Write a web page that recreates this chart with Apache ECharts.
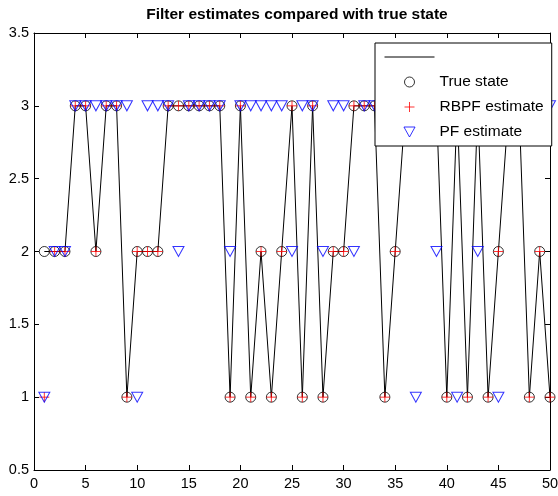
<!DOCTYPE html>
<html>
<head>
<meta charset="utf-8">
<title>Filter estimates compared with true state</title>
<script src="https://cdn.jsdelivr.net/npm/echarts@6/dist/echarts.min.js"></script>
<style>
  html, body { margin: 0; padding: 0; background: #fff; }
  #chart { width: 558px; height: 496px; }
</style>
</head>
<body>
<div id="chart"></div>
<script>
// Time steps and the discrete state sequences (1, 2 or 3) at each step
const steps = [1, 2, 3, 4, 5, 6, 7, 8, 9, 10,
               11, 12, 13, 14, 15, 16, 17, 18, 19, 20,
               21, 22, 23, 24, 25, 26, 27, 28, 29, 30,
               31, 32, 33, 34, 35, 36, 37, 38, 39, 40,
               41, 42, 43, 44, 45, 46, 47, 48, 49, 50];

const trueState = [2, 2, 2, 3, 3, 2, 3, 3, 1, 2,
                   2, 2, 3, 3, 3, 3, 3, 3, 1, 3,
                   1, 2, 1, 2, 3, 1, 3, 1, 2, 2,
                   3, 3, 3, 1, 2, 3, 3, 3, 3, 1,
                   3, 1, 3, 1, 2, 3, 3, 1, 2, 1];

const rbpfEstimate = [1, 2, 2, 3, 3, 2, 3, 3, 1, 2,
                      2, 2, 3, 3, 3, 3, 3, 3, 1, 3,
                      1, 2, 1, 2, 3, 1, 3, 1, 2, 2,
                      3, 3, 3, 1, 2, 3, 3, 3, 3, 1,
                      3, 1, 3, 1, 2, 3, 3, 1, 2, 1];

const pfEstimate = [1, 2, 2, 3, 3, 3, 3, 3, 3, 1,
                    3, 3, 3, 2, 3, 3, 3, 3, 2, 3,
                    3, 3, 3, 3, 2, 3, 3, 2, 3, 3,
                    2, 3, 3, 3, 3, 3, 1, 3, 2, 3,
                    1, 3, 2, 3, 1, 3, 3, 3, 3, 3];

const xTicks = { min: 0, max: 50, interval: 5 };
const yTicks = { min: 0.5, max: 3.5, interval: 0.5 };

const pairs = (vals) => steps.map((s, i) => [s, vals[i]]);

const FONT = '"Liberation Sans", Arial, Helvetica, sans-serif';
const PLUS = 'path://M5,0L5,10M0,5L10,5';
const TRI_DOWN = 'path://M0,0L10,0L5,9Z';

// Boxed axes: labelled bottom/left, plain top/right, ticks pointing inward
const boxAxis = (position, showLabel, isX) => ({
  type: 'value',
  position: position,
  min: isX ? xTicks.min : yTicks.min,
  max: isX ? xTicks.max : yTicks.max,
  interval: isX ? xTicks.interval : yTicks.interval,
  axisLine: { show: true, onZero: false, lineStyle: { color: '#000', width: 1 } },
  axisTick: { show: true, inside: true, length: 5, lineStyle: { color: '#000', width: 1 } },
  axisLabel: { show: showLabel, color: '#000', fontFamily: FONT, fontSize: 14.5, margin: isX ? 6 : 5 },
  splitLine: { show: false }
});

const chart = echarts.init(document.getElementById('chart'), null, { renderer: 'canvas' });

chart.setOption({
  animation: false,
  backgroundColor: '#fff',
  title: {
    text: 'Filter estimates compared with true state',
    left: 292,
    textAlign: 'center',
    top: 2,
    textStyle: { fontFamily: FONT, fontSize: 15.5, fontWeight: 'bold', color: '#000' }
  },
  grid: { left: 34, right: 8, top: 33, bottom: 26, containLabel: false, outerBoundsMode: 'none' },
  xAxis: [boxAxis('bottom', true, true), boxAxis('top', false, true)],
  yAxis: [boxAxis('left', true, false), boxAxis('right', false, false)],
  legend: {
    orient: 'vertical',
    left: 375,
    top: 43,
    padding: [6, 8, 6, 9],
    itemWidth: 50,
    itemHeight: 10,
    itemGap: 9,
    backgroundColor: '#fff',
    borderColor: '#000',
    borderWidth: 1,
    borderRadius: 0,
    z: 20,
    selectedMode: false,
    itemStyle: { borderWidth: 1 },
    textStyle: { fontFamily: FONT, fontSize: 15.5, color: '#000', lineHeight: 14 },
    formatter: (name) => (name === 'path' ? ' ' : name),
    data: [
      {
        name: 'path',
        itemStyle: { color: 'transparent', borderColor: 'transparent', borderWidth: 0 },
        lineStyle: { width: 1, color: '#000' }
      },
      'True state',
      'RBPF estimate',
      'PF estimate'
    ]
  },
  series: [
    {
      name: 'path',
      type: 'line',
      data: pairs(trueState),
      symbol: 'none',
      lineStyle: { color: '#000', width: 1 },
      itemStyle: { color: '#000' },
      z: 2
    },
    {
      name: 'True state',
      type: 'scatter',
      data: pairs(trueState),
      symbol: 'circle',
      symbolSize: 10,
      itemStyle: { color: 'transparent', borderColor: '#000', borderWidth: 1 },
      z: 3
    },
    {
      name: 'RBPF estimate',
      type: 'scatter',
      data: pairs(rbpfEstimate),
      symbol: PLUS,
      symbolSize: 10,
      itemStyle: { color: 'transparent', borderColor: '#ff0000', borderWidth: 1 },
      z: 4
    },
    {
      name: 'PF estimate',
      type: 'scatter',
      data: pairs(pfEstimate),
      symbol: TRI_DOWN,
      symbolSize: [11, 10],
      itemStyle: { color: 'transparent', borderColor: '#0000ff', borderWidth: 1 },
      z: 5
    }
  ]
});
</script>
</body>
</html>
